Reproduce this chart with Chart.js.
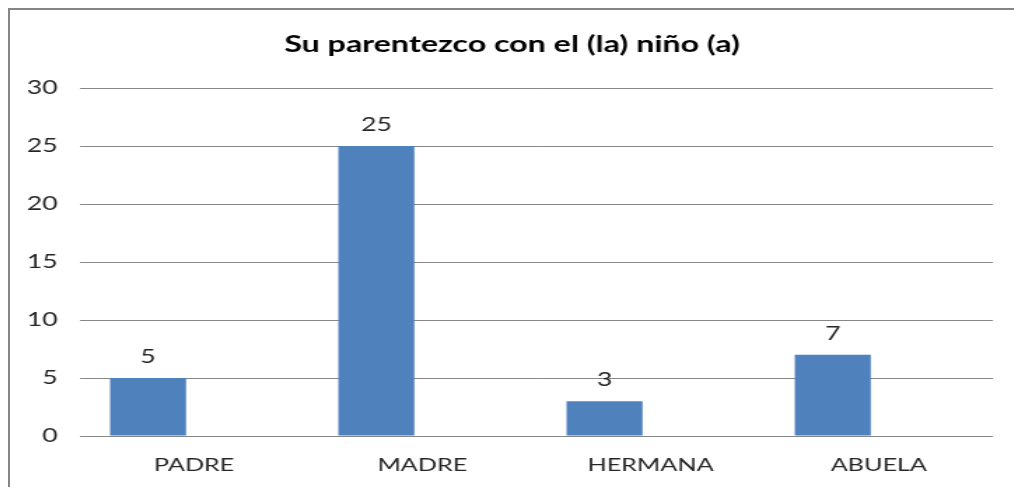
<!DOCTYPE html>
<html>
<head>
<meta charset="utf-8">
<script src="https://cdn.jsdelivr.net/npm/chart.js@4/dist/chart.umd.min.js"></script>
<style>
  html, body { margin: 0; padding: 0; background: #ffffff; }
  body { width: 1014px; height: 487px; position: relative; overflow: hidden; }
  #frame {
    position: absolute; left: 8px; top: 8px; width: 1006px; height: 479px;
    border-left: 2px solid #868686; border-top: 2px solid #868686;
  }
  #wrap {
    position: absolute; left: 0; top: 0;
    width: 717.14px; height: 477px;
    transform: scaleX(1.4); transform-origin: 0 0;
  }
</style>
</head>
<body>
<div id="frame"><div id="wrap"><canvas id="c"></canvas></div></div>
<script>
const titleText = 'Su parentezco con el (la) niño (a)';
const categories = ['PADRE', 'MADRE', 'HERMANA', 'ABUELA'];
const values = [5, 25, 3, 7];
const emptySeries = [null, null, null, null];
const yTicks = [0, 5, 10, 15, 20, 25, 30];

const FONT = 'Lato, "Open Sans", sans-serif';

const valueLabels = {
  id: 'valueLabels',
  afterDatasetsDraw(chart) {
    const ctx = chart.ctx;
    const meta = chart.getDatasetMeta(0);
    ctx.save();
    ctx.font = '19px ' + FONT;
    ctx.fillStyle = '#262626';
    ctx.textAlign = 'center';
    ctx.textBaseline = 'middle';
    meta.data.forEach((el, i) => {
      ctx.fillText(String(values[i]), el.x, el.y - 21);
    });
    ctx.restore();
  }
};

new Chart(document.getElementById('c'), {
  type: 'bar',
  data: {
    labels: categories,
    datasets: [
      { label: 'Serie 1', data: values, backgroundColor: '#4F81BD', borderWidth: 0,
        categoryPercentage: 0.807, barPercentage: 0.825 },
      { label: '', data: emptySeries, backgroundColor: '#C0504D', borderWidth: 0,
        categoryPercentage: 0.807, barPercentage: 0.825 }
    ]
  },
  options: {
    responsive: true,
    maintainAspectRatio: false,
    animation: false,
    layout: { padding: { left: 0, right: 0, top: 0, bottom: 0 } },
    plugins: {
      legend: { display: false },
      tooltip: { enabled: false },
      title: {
        display: true,
        text: titleText,
        color: '#000000',
        font: { family: FONT, size: 23, weight: 'bold' },
        padding: { top: 21, bottom: 29.4 }
      }
    },
    scales: {
      x: {
        grid: { display: false, drawTicks: false },
        border: { display: false },
        ticks: { color: '#262626', font: { family: FONT, size: 18 }, padding: 18, maxRotation: 0 },
        afterFit(s) { s.height = 51; }
      },
      y: {
        min: 0, max: 30,
        afterBuildTicks(s) { s.ticks = yTicks.map(v => ({ value: v })); },
        grid: { color: '#878787', lineWidth: 1, drawTicks: false },
        border: { display: false },
        ticks: { color: '#262626', font: { family: FONT, size: 19 }, padding: 16 },
        afterFit(s) { s.width = 50; }
      },
      y2: {
        position: 'right',
        display: true,
        grid: { display: false, drawTicks: false },
        border: { display: false },
        ticks: { display: false },
        afterFit(s) { s.width = 15; }
      }
    }
  },
  plugins: [valueLabels]
});
</script>
</body>
</html>
